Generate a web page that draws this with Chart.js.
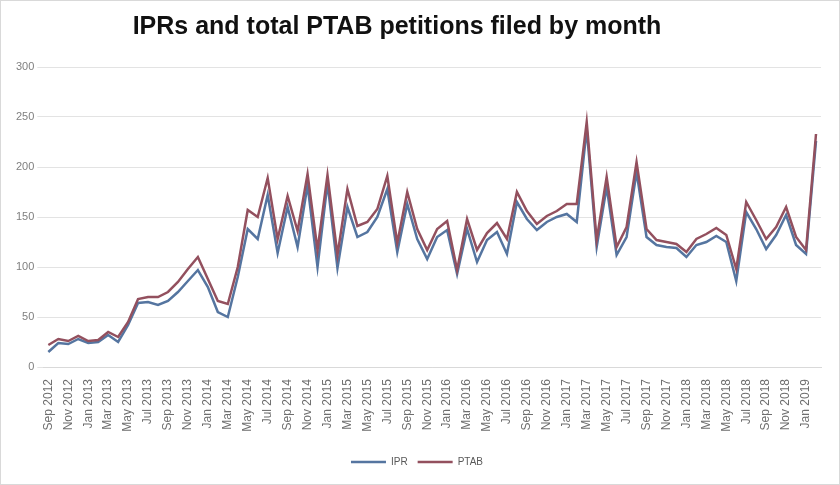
<!DOCTYPE html>
<html><head><meta charset="utf-8">
<script src="https://cdn.jsdelivr.net/npm/chart.js@4.4.1/dist/chart.umd.min.js"></script>
<style>
html,body{margin:0;padding:0;background:#fff;}
#wrap{position:absolute;left:0;top:0;width:840px;height:485px;box-sizing:border-box;border:1px solid #d9d9d9;background:#fff;}
canvas{display:block;}
</style></head><body>
<div id="wrap"><canvas id="c" width="838" height="483"></canvas></div>
<script>
const months = [
 'Sep 2012','Oct 2012','Nov 2012','Dec 2012',
 'Jan 2013','Feb 2013','Mar 2013','Apr 2013','May 2013','Jun 2013','Jul 2013','Aug 2013','Sep 2013','Oct 2013','Nov 2013','Dec 2013',
 'Jan 2014','Feb 2014','Mar 2014','Apr 2014','May 2014','Jun 2014','Jul 2014','Aug 2014','Sep 2014','Oct 2014','Nov 2014','Dec 2014',
 'Jan 2015','Feb 2015','Mar 2015','Apr 2015','May 2015','Jun 2015','Jul 2015','Aug 2015','Sep 2015','Oct 2015','Nov 2015','Dec 2015',
 'Jan 2016','Feb 2016','Mar 2016','Apr 2016','May 2016','Jun 2016','Jul 2016','Aug 2016','Sep 2016','Oct 2016','Nov 2016','Dec 2016',
 'Jan 2017','Feb 2017','Mar 2017','Apr 2017','May 2017','Jun 2017','Jul 2017','Aug 2017','Sep 2017','Oct 2017','Nov 2017','Dec 2017',
 'Jan 2018','Feb 2018','Mar 2018','Apr 2018','May 2018','Jun 2018','Jul 2018','Aug 2018','Sep 2018','Oct 2018','Nov 2018','Dec 2018',
 'Jan 2019','Feb 2019'
];
const iprValues = [
 15,24,23,28,24,25,32,25,42,64,
 65,62,66,75,86,97,80,55,50,90,
 138,128,172,114,160,120,182,100,184,99,
 160,130,135,150,178,115,163,128,108,130,
 137,93,138,105,127,135,113,165,148,137,
 145,150,153,145,238,120,180,112,130,195,
 130,122,120,119,110,122,125,131,125,86,
 155,138,118,132,152,122,113,226
];
const ptabValues = [
 22,28,26,31,26,27,35,30,45,68,
 70,70,75,85,98,110,88,66,63,100,
 157,150,189,128,171,136,193,117,192,112,
 178,141,145,158,191,124,175,138,117,138,
 146,97,148,117,134,144,128,175,156,143,
 151,156,163,163,245,127,190,120,140,205,
 138,127,125,123,115,128,133,139,132,98,
 165,147,128,140,160,130,117,233
];
const yMin = 0, yMax = 300, yStep = 50;
const seriesNames = ['IPR','PTAB'];
const titleText = 'IPRs and total PTAB petitions filed by month';

const shiftTitle = {
  id:'shiftTitle',
  afterLayout(chart){
    if (chart.titleBlock){ chart.titleBlock.left -= 20; chart.titleBlock.right -= 20; }
  }
};

new Chart(document.getElementById('c'), {
  type:'line',
  data:{
    labels: months,
    datasets:[
      {label:seriesNames[0], data:iprValues, borderColor:'#5575A0', backgroundColor:'#5575A0', borderWidth:2.5, pointRadius:0, tension:0, order:1},
      {label:seriesNames[1], data:ptabValues, borderColor:'#93505E', backgroundColor:'#93505E', borderWidth:2.5, pointRadius:0, tension:0, order:0}
    ]
  },
  options:{
    responsive:false,
    animation:false,
    layout:{padding:{left:12,right:18,top:0,bottom:7}},
    plugins:{
      title:{display:true, text:titleText, color:'#111',
        font:{family:'"Liberation Sans", Arial, sans-serif', size:25, weight:'bold'},
        padding:{top:11,bottom:25}},
      legend:{position:'bottom',
        labels:{usePointStyle:true, pointStyle:'line', pointStyleWidth:35, color:'#595959', padding:10,
          font:{family:'"Liberation Sans", Arial, sans-serif', size:10},
          sort:(a,b)=>a.datasetIndex-b.datasetIndex}},
      tooltip:{enabled:false}
    },
    scales:{
      x:{
        offset:true,
        grid:{display:false},
        border:{display:true, color:'#d9d9d9'},
        ticks:{autoSkip:false, maxRotation:90, minRotation:90, padding:4, color:'#6e6e6e',
          font:{family:'"Liberation Sans", Arial, sans-serif', size:12},
          callback:(v,i)=> (i%2===0 ? months[i] : '')},
        afterFit:(s)=>{ s.height = 80; }
      },
      y:{
        min:yMin, max:yMax,
        grid:{color:'#e3e3e3', drawTicks:true, tickLength:6},
        border:{display:false},
        ticks:{stepSize:yStep, padding:3, color:'#7f7f7f',
          font:{family:'"Liberation Sans", Arial, sans-serif', size:11}}
      }
    }
  },
  plugins:[shiftTitle]
});
</script>
</body></html>
